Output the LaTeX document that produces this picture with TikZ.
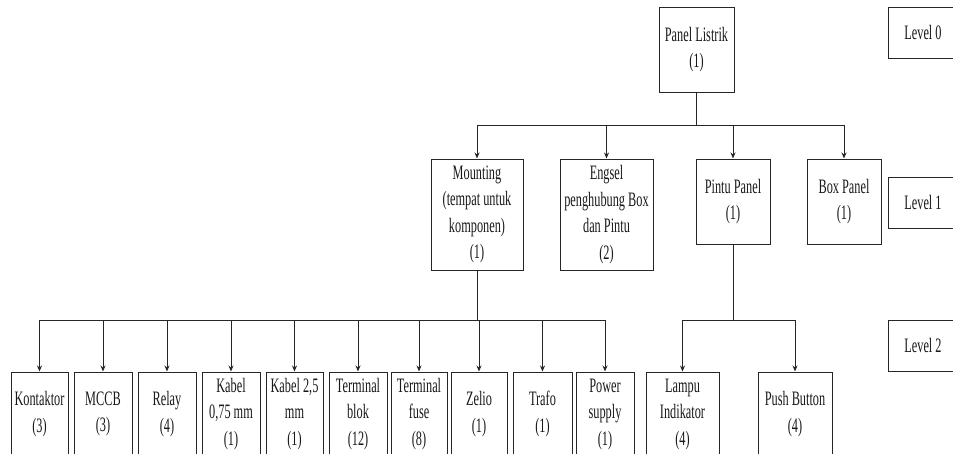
\documentclass[tikz,border=0pt]{standalone}
\usepackage{fontspec}
\setmainfont{Liberation Serif}[FakeStretch=0.6]
\usetikzlibrary{arrows.meta}
\tikzset{
  box/.style={draw=black!85, line width=1pt, inner sep=0pt, align=center,
    font=\fontsize{20.5}{26.5}\selectfont, text=black!90},
  topbox/.style={box, minimum width=75pt, minimum height=85pt},
  lvl/.style={box, minimum width=70pt, minimum height=51pt},
  bigbox/.style={box, minimum width=92pt, minimum height=111pt},
  midbox/.style={box, minimum width=74pt, minimum height=85pt},
  leafbox/.style={box, minimum height=84pt},
  wire/.style={draw=black!85, line width=1pt},
  arr/.style={wire, -{Stealth[length=6pt, width=5pt]}}
}
\begin{document}
\begin{tikzpicture}[x=1pt, y=-1pt]
\useasboundingbox (0,0) rectangle (953,453);
\clip (0,0) rectangle (953,453);
% level 0
\node[topbox] (pl) at (696.5,49.5) {Panel Listrik\\(1)};
\node[lvl] (l0) at (923,32.5) {Level 0};
% level 1
\node[bigbox] (mt) at (477,214.5) {Mounting\\(tempat untuk\\komponen)\\(1)};
\node[bigbox, minimum width=93pt] (eg) at (606.5,214.5) {Engsel\\penghubung Box\\dan Pintu\\(2)};
\node[midbox] (pp) at (733,201.5) {Pintu Panel\\(1)};
\node[midbox] (bp) at (844,201.5) {Box Panel\\(1)};
\node[lvl] (l1) at (923,202.5) {Level 1};
% level 2
\node[leafbox, minimum width=57pt] (k1) at (39.5,414) {Kontaktor\\(3)};
\node[leafbox, minimum width=58pt] (k2) at (103,414) {MCCB\\(3)};
\node[leafbox, minimum width=58pt] (k3) at (167,414) {Relay\\(4)};
\node[leafbox, minimum width=58pt] (k4) at (231,414) {Kabel\\0,75 mm\\(1)};
\node[leafbox, minimum width=57pt] (k5) at (294.5,414) {Kabel 2,5\\mm\\(1)};
\node[leafbox, minimum width=58pt] (k6) at (358,414) {Terminal\\blok\\(12)};
\node[leafbox, minimum width=56pt] (k7) at (419,414) {Terminal\\fuse\\(8)};
\node[leafbox, minimum width=56pt] (k8) at (479,414) {Zelio\\(1)};
\node[leafbox, minimum width=59pt] (k9) at (542.5,414) {Trafo\\(1)};
\node[leafbox, minimum width=58pt] (k10) at (605,414) {Power\\supply\\(1)};
\node[leafbox, minimum width=73pt] (la) at (682.5,414) {Lampu\\Indikator\\(4)};
\node[leafbox, minimum width=74pt] (pb) at (795,414) {Push Button\\(4)};
\node[lvl] (l2) at (923,345.5) {Level 2};
% buses
\coordinate (b1) at (0,125);
\coordinate (b2) at (0,320);
\draw[wire] (pl.south) -- (pl.south |- b1);
\draw[wire] (b1 -| mt) -- (b1 -| bp);
\foreach \n in {mt,eg,pp,bp} \draw[arr] (b1 -| \n) -- (\n.north);
\draw[wire] (mt.south) -- (mt.south |- b2);
\draw[wire] (b2 -| k1) -- (b2 -| k10);
\foreach \n in {k1,k2,k3,k4,k5,k6,k7,k8,k9,k10} \draw[arr] (b2 -| \n) -- (\n.north);
\draw[wire] (pp.south) -- (pp.south |- b2);
\draw[wire] (b2 -| la) -- (b2 -| pb);
\foreach \n in {la,pb} \draw[arr] (b2 -| \n) -- (\n.north);
\end{tikzpicture}
\end{document}
